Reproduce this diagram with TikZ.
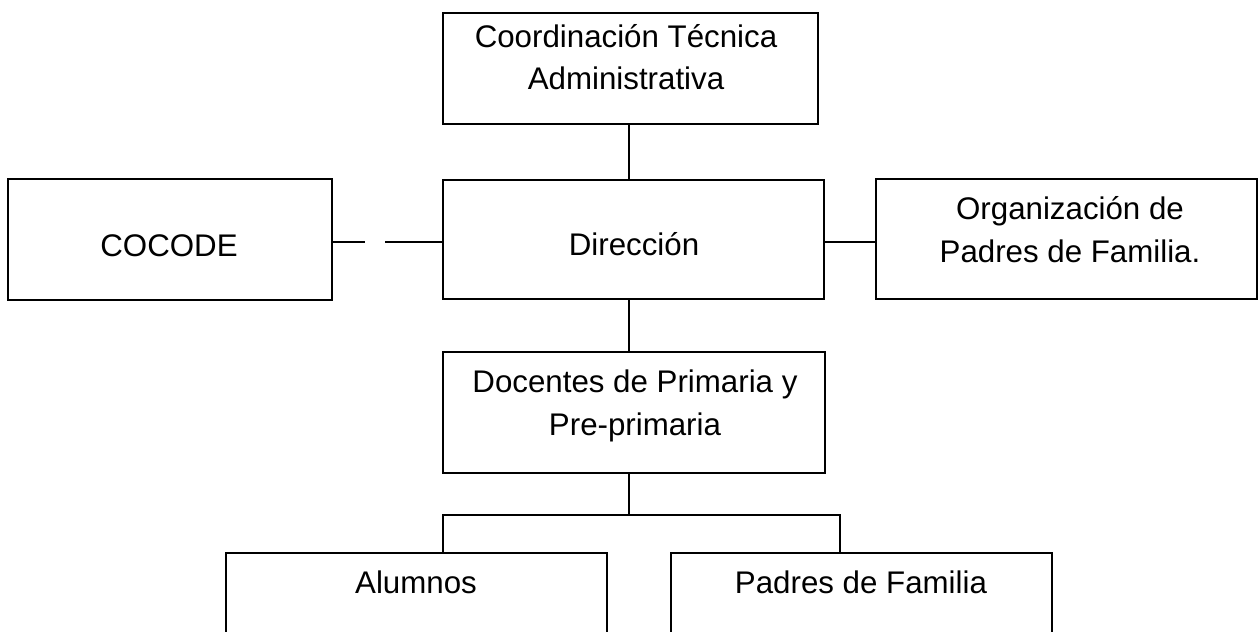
\documentclass[tikz,border=0pt]{standalone}
\usepackage{fontspec}
\setmainfont{Liberation Sans}
\usetikzlibrary{fit}
\tikzset{
  boxnode/.style={draw=black, line width=0.04cm, inner sep=0pt},
  boxtext/.style={anchor=base, inner sep=0pt, align=center, font=\fontsize{17.8}{24.4}\selectfont},
  link/.style={draw=black, line width=0.04cm}
}
\begin{document}
\begin{tikzpicture}[x=0.02cm, y=-0.02cm]
\clip (0,0) rectangle (1259,632);
\fill[white] (0,0) rectangle (1259,632);
%Boxes
\node[boxnode, fit={(443,13) (818,124)}] (coord) {};
\node[boxnode, fit={(8,179) (332,300)}] (cocode) {};
\node[boxnode, fit={(443,180) (824,299)}] (dir) {};
\node[boxnode, fit={(876,179) (1257,299)}] (org) {};
\node[boxnode, fit={(443,352) (825,473)}] (doc) {};
\node[boxnode, fit={(226,553) (607,700)}] (alum) {};
\node[boxnode, fit={(671,553) (1052,700)}] (padres) {};
%Texts (base = last line)
\node[boxtext] (coordtxt) at (626,90) {Coordinación Técnica\\Administrativa};
\node[boxtext] (cocodetxt) at (169,256) {COCODE};
\node[boxtext] (dirtxt) at (634,255) {Dirección};
\node[boxtext] (orgtxt) at (1070,262) {Organización de\\Padres de Familia.};
\node[boxtext] (doctxt) at (635,435) {Docentes de Primaria y\\Pre-primaria};
\node[boxtext] (alumtxt) at (416,593) {Alumnos};
\node[boxtext] (padrestxt) at (861,593) {Padres de Familia};
%Links
\coordinate (mid) at (0,242);
\draw[link] (coord.south -| 629,0) -- (dir.north -| 629,0);
\draw[link] (cocode.east |- mid) -- ++(32,0);
\draw[link] (dir.west |- mid) -- ++(-57,0);
\draw[link] (dir.east |- mid) -- (org.west |- mid);
\draw[link] (dir.south -| 629,0) -- (doc.north -| 629,0);
\coordinate (brL) at (443,515);
\coordinate (brR) at (840,515);
\draw[link] (doc.south -| 629,0) -- (brL -| 629,0);
\draw[link] (alum.north -| brL) -- (brL) -- (brR) -- (padres.north -| brR);
\end{tikzpicture}
\end{document}
